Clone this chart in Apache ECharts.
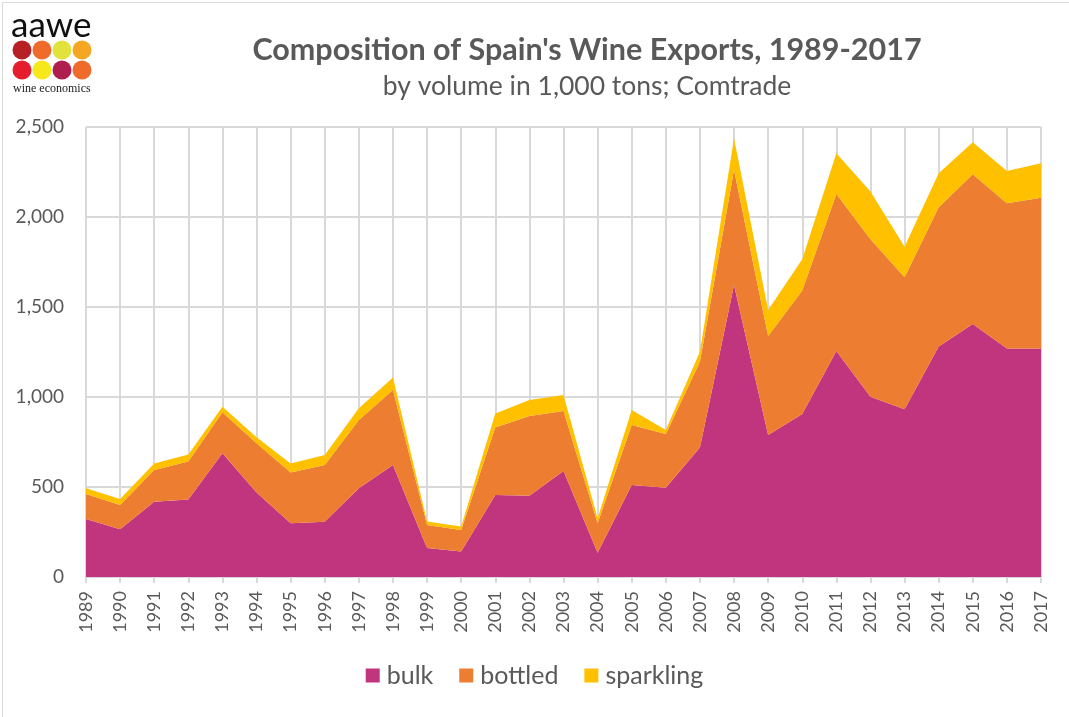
<!DOCTYPE html>
<html><head><meta charset="utf-8">
<script src="https://cdn.jsdelivr.net/npm/echarts@6/dist/echarts.min.js"></script>
<style>html,body{margin:0;padding:0;background:#fff}#c{width:1069px;height:717px}</style>
</head><body><div id="c"></div>
<script>
const years = ['1989','1990','1991','1992','1993','1994','1995','1996','1997','1998','1999','2000','2001','2002','2003','2004','2005','2006','2007','2008','2009','2010','2011','2012','2013','2014','2015','2016','2017'];
const bulk = [322,265,418,431,687,469,298,307,493,622,161,141,456,452,589,135,511,496,720,1622,789,906,1256,1002,932,1280,1406,1270,1270];
const bottled = [139,135,176,210,228,274,283,315,379,417,128,120,375,442,333,163,333,298,476,639,550,685,872,874,733,774,831,806,837];
const sparkling = [32,33,37,40,31,33,50,56,65,70,20,19,78,89,89,28,84,23,56,176,144,174,226,265,170,189,178,180,191];
const yTicks = [0,500,1000,1500,2000,2500];

const FONT = 'Lato, "Open Sans", sans-serif';
const chart = echarts.init(document.getElementById('c'), null, {renderer:'canvas'});
function mk(name, data, color){
  return {name, type:'line', stack:'total', data, symbol:'none', smooth:false,
    lineStyle:{width:0, color}, areaStyle:{color, opacity:1}, itemStyle:{color}};
}
const logoCircles = [
  [22,50,'#B72025'],[42,50,'#EE6B2C'],[62,50,'#E2E23C'],[82,50,'#F5A623'],
  [22,70,'#E41E2D'],[42,70,'#F7E81C'],[62,70,'#B01E4F'],[82,70,'#EE6B2C']
];
chart.setOption({
  animation:false,
  backgroundColor:'#fff',
  title:[{text:"Composition of Spain's Wine Exports, 1989-2017", left:582, top:30, textAlign:'center',
    textStyle:{fontFamily:FONT, fontSize:30.5, fontWeight:'bold', color:'#595959'}},
    {text:'by volume in 1,000 tons; Comtrade', left:582, top:68, textAlign:'center',
    textStyle:{fontFamily:FONT, fontSize:26.5, fontWeight:'normal', color:'#595959'}}],
  legend:{bottom:24, left:'center', itemWidth:14, itemHeight:14, itemGap:26, icon:'rect',
    textStyle:{fontFamily:FONT, fontSize:25, color:'#595959', padding:[0,0,0,2]},
    data:['bulk','bottled','sparkling']},
  grid:{left:86, right:28, top:127, bottom:140},
  xAxis:{type:'category', data:years, boundaryGap:false,
    axisLine:{show:true, lineStyle:{color:'#d9d9d9', width:2}},
    axisTick:{show:true, alignWithLabel:true, length:6, lineStyle:{color:'#d9d9d9', width:2}},
    splitLine:{show:true, lineStyle:{color:'#d9d9d9', width:2}},
    axisLabel:{rotate:90, interval:0, margin:14, fontFamily:FONT, fontSize:18, color:'#595959'}},
  yAxis:{type:'value', min:0, max:2500, interval:500,
    axisLine:{show:false}, axisTick:{show:false},
    splitLine:{show:true, lineStyle:{color:'#d9d9d9', width:2}},
    axisLabel:{margin:22, fontFamily:FONT, fontSize:19, color:'#595959',
      formatter:v=>yTicks.includes(v)?v.toLocaleString('en-US'):''}},
  series:[mk('bulk',bulk,'#C1357F'), mk('bottled',bottled,'#ED7D31'), mk('sparkling',sparkling,'#FFC000')],
  graphic:[
    {type:'rect', left:0, top:0, shape:{x:0.5,y:0.5,width:1067,height:715}, style:{fill:null, stroke:'#d9d9d9', lineWidth:1}, silent:true, z:-1},
    {type:'text', left:11, top:8, style:{text:'aawe', font:'35px Lato, "Open Sans", sans-serif', fill:'#111'}},
    ...logoCircles.map(c=>({type:'circle', shape:{cx:c[0], cy:c[1], r:9.5}, style:{fill:c[2]}})),
    {type:'text', left:13, top:83, style:{text:'wine economics', font:'12px "Liberation Serif", serif', fill:'#222'}}
  ]
});
</script></body></html>
